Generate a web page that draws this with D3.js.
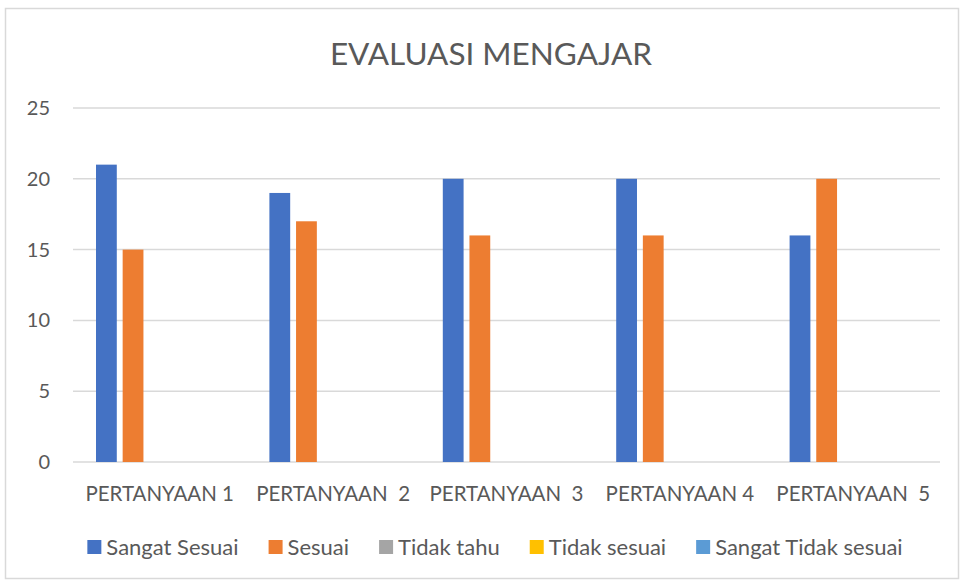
<!DOCTYPE html>
<html>
<head>
<meta charset="utf-8">
<script src="https://cdn.jsdelivr.net/npm/d3@7"></script>
<style>
body { margin: 0; background: #fff; }
text { font-family: Lato, "Open Sans", sans-serif; fill: #595959; white-space: pre; }
</style>
</head>
<body>
<script>
let width = 960;
let height = 581;

let categories = ["PERTANYAAN 1", "PERTANYAAN  2", "PERTANYAAN  3", "PERTANYAAN 4", "PERTANYAAN  5"];
let seriesNames = ["Sangat Sesuai", "Sesuai", "Tidak tahu", "Tidak sesuai", "Sangat Tidak sesuai"];
let seriesColors = ["#4472c4", "#ed7d31", "#a5a5a5", "#ffc000", "#5b9bd5"];
let sangatSesuai = [21, 19, 20, 20, 16];
let sesuai = [15, 17, 16, 16, 20];
let tidakTahu = [0, 0, 0, 0, 0];
let tidakSesuai = [0, 0, 0, 0, 0];
let sangatTidakSesuai = [0, 0, 0, 0, 0];
let yTicks = [0, 5, 10, 15, 20, 25];

let allSeries = [sangatSesuai, sesuai, tidakTahu, tidakSesuai, sangatTidakSesuai];

let svg = d3.select("body").append("svg");
svg.attr("width", width).attr("height", height);

// chart border
svg.append("rect")
    .attr("x", 5.5).attr("y", 8.5)
    .attr("width", width - 7).attr("height", height - 11)
    .attr("fill", "#fff").attr("stroke", "#d9d9d9").attr("stroke-width", 1.5);

svg.append("text")
    .attr("x", 491).attr("y", 65)
    .attr("text-anchor", "middle")
    .style("font-size", "31.5px")
    .text("EVALUASI MENGAJAR");

let plotLeft = 73, plotRight = 940, plotTop = 108, plotBottom = 462;

let x = d3.scaleBand().domain(categories).range([plotLeft, plotRight]);
let y = d3.scaleLinear().domain([0, 25]).range([plotBottom, plotTop]);
let xs = d3.scaleBand().domain(seriesNames)
    .range([23, x.bandwidth() - 23]).paddingInner(0.22);

// gridlines
svg.append("g").selectAll("line")
    .data(yTicks)
    .enter()
    .append("line")
        .attr("x1", plotLeft).attr("x2", plotRight)
        .attr("y1", function(d){ return y(d); })
        .attr("y2", function(d){ return y(d); })
        .attr("stroke", "#d9d9d9").attr("stroke-width", 1.5);

svg.append("g").selectAll("text")
    .data(yTicks)
    .enter()
    .append("text")
        .attr("x", 50)
        .attr("y", function(d){ return y(d) + 7; })
        .attr("text-anchor", "end")
        .style("font-size", "20px")
        .text(function(d){ return d; });

// bars
let groups = svg.append("g").selectAll("g")
    .data(categories)
    .enter()
    .append("g")
        .attr("transform", function(d){ return "translate(" + x(d) + ",0)"; });

groups.selectAll("rect")
    .data(function(d, i){
        return seriesNames.map(function(s, j){ return {s: s, v: allSeries[j][i], c: seriesColors[j]}; });
    })
    .enter()
    .append("rect")
        .attr("x", function(d){ return xs(d.s); })
        .attr("y", function(d){ return y(d.v); })
        .attr("width", xs.bandwidth())
        .attr("height", function(d){ return plotBottom - y(d.v); })
        .attr("fill", function(d){ return d.c; });

svg.append("g").selectAll("text")
    .data(categories)
    .enter()
    .append("text")
        .attr("x", function(d){ return x(d) + x.bandwidth() / 2; })
        .attr("y", 501)
        .attr("text-anchor", "middle")
        .style("font-size", "20.5px")
        .text(function(d){ return d; });

// legend
let legend = svg.append("g");
let items = legend.selectAll("g")
    .data(seriesNames)
    .enter()
    .append("g");
items.append("rect")
    .attr("width", 14).attr("height", 14)
    .attr("y", 540)
    .attr("fill", function(d, i){ return seriesColors[i]; });
items.append("text")
    .attr("x", 19).attr("y", 555)
    .style("font-size", "22px")
    .text(function(d){ return d; });

let pos = 0;
let offsets = [];
items.each(function(){
    offsets.push(pos);
    pos += this.getBBox().width + 30;
});
let total = pos - 30;
let startX = 495 - total / 2;
items.attr("transform", function(d, i){ return "translate(" + (startX + offsets[i]) + ",0)"; });
</script>
</body>
</html>
